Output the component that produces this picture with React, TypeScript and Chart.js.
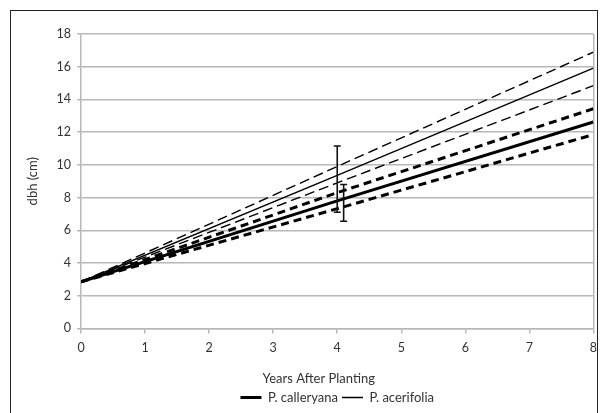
import React, { useEffect, useRef } from "react";
import { Chart, registerables } from "chart.js";

Chart.register(...registerables);

const YEARS = [0, 4, 8];
const CALLERYANA = [2.85, 7.8, 12.62];
const CALLERYANA_UPPER = [2.85, 8.3, 13.43];
const CALLERYANA_LOWER = [2.85, 7.32, 11.85];
const ACERIFOLIA = [2.85, 9.36, 15.91];
const ACERIFOLIA_UPPER = [2.85, 9.9, 16.89];
const ACERIFOLIA_LOWER = [2.85, 8.9, 14.84];

const ERR_X = [4, 4.1];
const ERR_LOW = [7.1, 6.55];
const ERR_HIGH = [11.15, 8.8];

const SERIES_LABELS = ["P. calleryana", "P. acerifolia"];
const X_TITLE = "Years After Planting";
const Y_TICKS = [0, 2, 4, 6, 8, 10, 12, 14, 16, 18];
const X_TICKS = [0, 1, 2, 3, 4, 5, 6, 7, 8];

const FONT = "Lato, 'Open Sans', sans-serif";
const TEXT = "#333333";
const GRID = "#b8b8b8";
const TITLE_SIZE = 13;
const TITLE_POS = 0.464; // fraction of plot width where the x title is centred

const pts = (ys: number[]) => YEARS.map((x, i) => ({ x, y: ys[i] }));

const errorBarPlugin = {
  id: "errorBars",
  afterDatasetsDraw(chart: any) {
    const { ctx, scales } = chart;
    const xs = scales.x;
    const ys = scales.y;
    ctx.save();
    ctx.strokeStyle = "#111";
    ctx.lineWidth = 1.6;
    ERR_X.forEach((xv, i) => {
      const px = xs.getPixelForValue(xv);
      const lo = ys.getPixelForValue(ERR_LOW[i]);
      const hi = ys.getPixelForValue(ERR_HIGH[i]);
      const cap = 3.5;
      ctx.beginPath();
      ctx.moveTo(px, lo);
      ctx.lineTo(px, hi);
      ctx.moveTo(px - cap, lo);
      ctx.lineTo(px + cap, lo);
      ctx.moveTo(px - cap, hi);
      ctx.lineTo(px + cap, hi);
      ctx.stroke();
    });
    ctx.restore();
  },
};

const xTitlePlugin = {
  id: "xTitle",
  afterDraw(chart: any) {
    const { ctx, chartArea, scales } = chart;
    const xs = scales.x;
    const lh = TITLE_SIZE * 1.2;
    const y = xs.bottom - lh / 2;
    const x = chartArea.left + (chartArea.right - chartArea.left) * TITLE_POS;
    ctx.save();
    ctx.fillStyle = TEXT;
    ctx.font = `${TITLE_SIZE}px ${FONT}`;
    ctx.textAlign = "center";
    ctx.textBaseline = "middle";
    ctx.fillText(X_TITLE, x, y);
    ctx.restore();
  },
};

export default function App() {
  const ref = useRef<HTMLCanvasElement | null>(null);

  useEffect(() => {
    if (!ref.current) return;
    const common = { pointRadius: 0, borderColor: "#000", fill: false, tension: 0 };
    const chart = new Chart(ref.current, {
      type: "line",
      data: {
        datasets: [
          { ...common, label: SERIES_LABELS[0], data: pts(CALLERYANA), borderWidth: 3 },
          { ...common, label: SERIES_LABELS[1], data: pts(ACERIFOLIA), borderWidth: 1.4 },
          { ...common, label: "", data: pts(CALLERYANA_UPPER), borderWidth: 3, borderDash: [8, 5] },
          { ...common, label: "", data: pts(CALLERYANA_LOWER), borderWidth: 3, borderDash: [8, 5] },
          { ...common, label: "", data: pts(ACERIFOLIA_UPPER), borderWidth: 1.4, borderDash: [10, 5] },
          { ...common, label: "", data: pts(ACERIFOLIA_LOWER), borderWidth: 1.4, borderDash: [10, 5] },
        ],
      },
      options: {
        animation: false,
        responsive: true,
        maintainAspectRatio: false,
        layout: { padding: { top: 22, right: 0, left: 3, bottom: 0 } },
        scales: {
          x: {
            type: "linear",
            min: 0,
            max: 8,
            afterBuildTicks: (s: any) => {
              s.ticks = X_TICKS.map((v) => ({ value: v }));
            },
            ticks: { color: TEXT, font: { family: FONT, size: 12.5 }, padding: 7 },
            grid: {
              color: (c: any) => (c.tick && c.tick.value === 8 ? GRID : "rgba(0,0,0,0)"),
              tickColor: GRID,
              tickLength: 5,
              lineWidth: 1.5,
            },
            border: { color: GRID, width: 1.5 },
            title: {
              display: true,
              text: X_TITLE,
              color: "rgba(0,0,0,0)",
              font: { family: FONT, size: TITLE_SIZE },
              padding: { top: 9, bottom: 0 },
            },
          },
          y: {
            min: 0,
            max: 18,
            afterBuildTicks: (s: any) => {
              s.ticks = Y_TICKS.map((v) => ({ value: v }));
            },
            ticks: { color: TEXT, font: { family: FONT, size: 12.5 }, padding: 6 },
            grid: { color: GRID, tickColor: GRID, tickLength: 4, lineWidth: 1.5 },
            border: { color: GRID, width: 1.5 },
            title: {
              display: true,
              text: "dbh (cm)",
              color: TEXT,
              font: { family: FONT, size: TITLE_SIZE },
              padding: { top: 10, bottom: 10 },
            },
          },
        },
        plugins: {
          tooltip: { enabled: false },
          title: { display: false },
          legend: {
            display: true,
            position: "bottom",
            fullSize: false,
            labels: {
              color: TEXT,
              font: { family: FONT, size: 13 },
              usePointStyle: true,
              pointStyleWidth: 21,
              padding: 4,
              filter: (item: any) => !!item.text,
              generateLabels: (ch: any) =>
                ch.data.datasets.map((d: any, i: number) => ({
                  text: d.label,
                  datasetIndex: i,
                  pointStyle: "line",
                  strokeStyle: "#000",
                  fillStyle: "#000",
                  lineWidth: d.borderWidth,
                  fontColor: TEXT,
                  hidden: false,
                })),
            },
          },
        },
      },
      plugins: [errorBarPlugin, xTitlePlugin],
    } as any);
    return () => chart.destroy();
  }, []);

  return (
    <div style={{ position: "fixed", inset: 0, overflow: "hidden", background: "#fff" }}>
      <div
        style={{
          position: "absolute",
          left: 10,
          top: 10,
          width: 588,
          height: 420,
          border: "1.5px solid #222",
          boxSizing: "border-box",
        }}
      >
        <div style={{ position: "absolute", left: 1, top: 1, width: 592, height: 402 }}>
          <canvas ref={ref} />
        </div>
      </div>
    </div>
  );
}
